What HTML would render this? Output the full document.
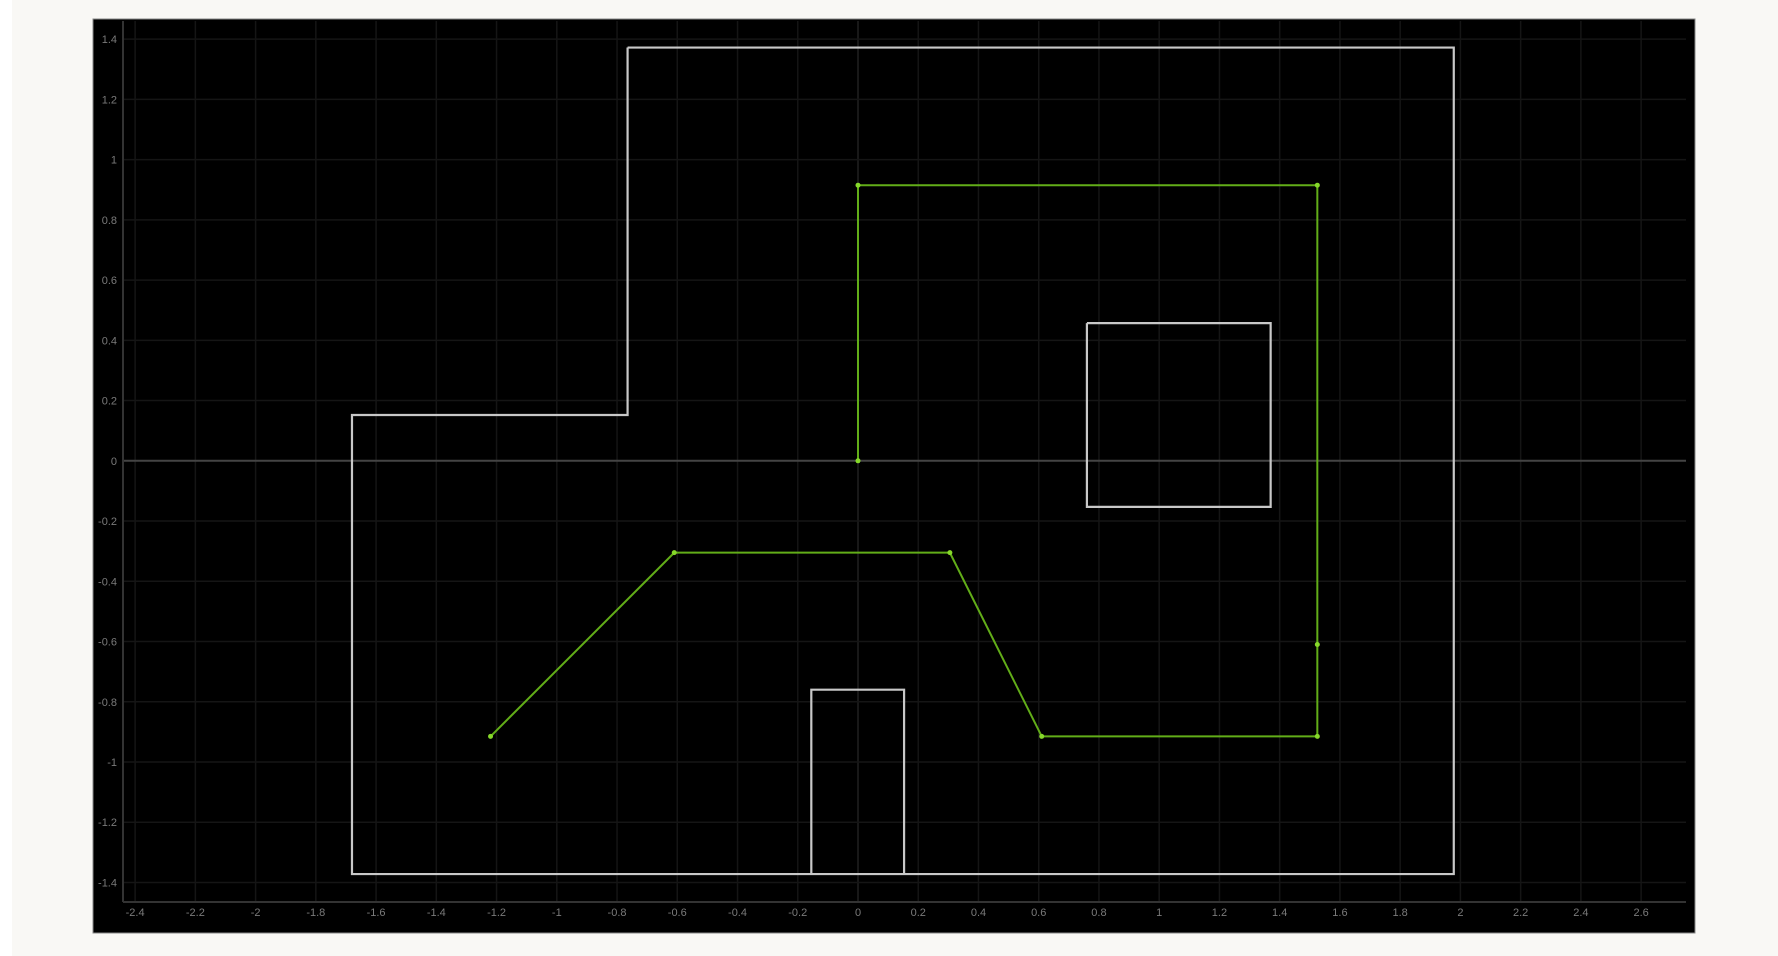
<!DOCTYPE html>
<html><head><meta charset="utf-8"><style>
html,body{margin:0;padding:0;background:#f9f8f5;width:1778px;height:956px;overflow:hidden}
svg{position:absolute;left:0;top:0}
text{font-family:"Liberation Sans",sans-serif;font-size:11px;fill:#7a7a7a}
</style></head><body>
<div style="position:absolute;left:0;top:0;width:12px;height:956px;background:#fff"></div>
<svg id="c" width="1778" height="956"></svg>
<script>
const xTicks=[-2.4,-2.2,-2,-1.8,-1.6,-1.4,-1.2,-1,-0.8,-0.6,-0.4,-0.2,0,0.2,0.4,0.6,0.8,1,1.2,1.4,1.6,1.8,2,2.2,2.4,2.6];
const yTicks=[1.4,1.2,1,0.8,0.6,0.4,0.2,0,-0.2,-0.4,-0.6,-0.8,-1,-1.2,-1.4];
const wallX=[-0.765,1.978,1.978,-1.68,-1.68,-0.765,-0.765];
const wallY=[1.372,1.372,-1.372,-1.372,0.152,0.152,1.372];
const boxX=[0.76,1.37,1.37,0.76,0.76];
const boxY=[0.457,0.457,-0.153,-0.153,0.457];
const doorX=[-0.155,-0.155,0.153,0.153];
const doorY=[-1.372,-0.76,-0.76,-1.372];
const pathX=[-1.22,-0.61,0.305,0.61,1.525,1.525,1.525,0,0];
const pathY=[-0.915,-0.305,-0.305,-0.915,-0.915,-0.61,0.915,0.915,0];
const NS='http://www.w3.org/2000/svg';
const svg=document.getElementById('c');
const sx=v=>858+v*301.2, sy=v=>460.8-v*301.2;
function el(t,a,p){const e=document.createElementNS(NS,t);for(const k in a)e.setAttribute(k,a[k]);(p||svg).appendChild(e);return e;}
const bg=el('rect',{x:93,y:19,width:1602,height:914,fill:'#000',stroke:'#888','stroke-width':1});


xTicks.forEach(v=>{
  const l=el('line',{x1:sx(v),x2:sx(v),y1:21,y2:902,stroke:v===0?'#202020':'#151515','stroke-width':1.5});
  
  
  const t=el('text',{x:sx(v),y:916,'text-anchor':'middle'});t.textContent=v;
  
  
});
yTicks.forEach(v=>{
  const l=el('line',{x1:123,x2:1686,y1:sy(v),y2:sy(v),stroke:v===0?'#444':'#151515','stroke-width':v===0?2:1.5});
  
  
  const t=el('text',{x:117,y:sy(v)+4,'text-anchor':'end'});t.textContent=v;
  
  
});
const ya=el('line',{x1:123,x2:123,y1:21,y2:902,stroke:'#333','stroke-width':2});


const xa=el('line',{x1:123,x2:1686,y1:902,y2:902,stroke:'#333','stroke-width':2});


function poly(X,Y,col,w,name){
  const p=el('polyline',{points:X.map((x,i)=>sx(x)+','+sy(Y[i])).join(' '),fill:'none',stroke:col,'stroke-width':w});
  
  
}
poly(wallX,wallY,'#c8c8c8',2.2,'room-wall');
poly(boxX,boxY,'#c8c8c8',2.2,'obstacle-box');
poly(doorX,doorY,'#c8c8c8',2.2,'door');
poly(pathX,pathY,'#62ad18',2,'robot-path');
pathX.forEach((x,i)=>{
  const c=el('circle',{cx:sx(x),cy:sy(pathY[i]),r:2.5,fill:'#86d82a'});
  
  
});
</script>
</body></html>
